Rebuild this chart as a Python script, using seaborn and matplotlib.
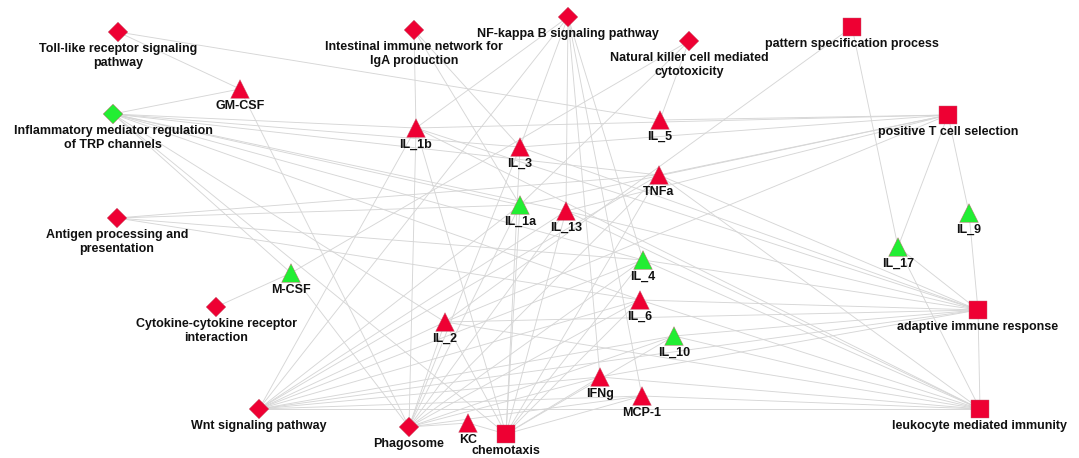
import matplotlib
matplotlib.use("Agg")
import matplotlib.pyplot as plt
import seaborn as sns
import pandas as pd

# ---- data ----
node_names = ["Toll-like receptor signaling\npathway", "Intestinal immune network for\nIgA production",
              "NF-kappa B signaling pathway", "Natural killer cell mediated\ncytotoxicity",
              "pattern specification process", "GM-CSF", "Inflammatory mediator regulation\nof TRP channels",
              "IL_1b", "IL_3", "IL_5", "positive T cell selection", "TNFa", "IL_1a", "IL_13",
              "Antigen processing and\npresentation", "IL_9", "IL_4", "IL_17", "M-CSF", "IL_6",
              "Cytokine-cytokine receptor\ninteraction", "adaptive immune response", "IL_2", "IL_10",
              "IFNg", "MCP-1", "Wnt signaling pathway", "leukocyte mediated immunity", "Phagosome",
              "KC", "chemotaxis"]
node_ids = ["Toll", "Intestinal", "NFkB", "NK", "pattern", "GM-CSF", "TRP", "IL_1b", "IL_3", "IL_5",
            "posT", "TNFa", "IL_1a", "IL_13", "Antigen", "IL_9", "IL_4", "IL_17", "M-CSF", "IL_6",
            "Cytokine", "adaptive", "IL_2", "IL_10", "IFNg", "MCP-1", "Wnt", "leukocyte", "Phagosome",
            "KC", "chemotaxis"]
node_x = [118, 414, 568, 689, 852, 240, 113, 416, 520, 660, 948, 659, 520, 566, 117, 969, 643, 898,
          291, 640, 216, 978, 445, 674, 600, 642, 259, 980, 409, 468, 506]
node_y = [32, 30, 17, 41, 27, 89, 114, 128, 147, 120, 115, 175, 205, 211, 218, 213, 260, 247, 273,
          300, 307, 310, 322, 336, 377, 396, 409, 409, 427, 423, 434]
node_kind = ["pathway", "pathway", "pathway", "pathway", "process", "cytokine", "pathway", "cytokine",
             "cytokine", "cytokine", "process", "cytokine", "cytokine", "cytokine", "pathway", "cytokine",
             "cytokine", "cytokine", "cytokine", "cytokine", "pathway", "process", "cytokine", "cytokine",
             "cytokine", "cytokine", "pathway", "process", "pathway", "cytokine", "process"]
node_state = ["up", "up", "up", "up", "up", "up", "down", "up", "up", "up", "up", "up", "down", "up",
              "up", "down", "down", "down", "down", "up", "up", "up", "up", "down", "up", "up", "up",
              "up", "up", "up", "up"]

edges = [
    ("Toll", "GM-CSF"), ("Toll", "IL_5"),
    ("TRP", "GM-CSF"), ("TRP", "IL_1b"), ("TRP", "IL_3"), ("TRP", "TNFa"), ("TRP", "IL_13"),
    ("TRP", "IL_4"), ("TRP", "IL_6"), ("TRP", "M-CSF"), ("TRP", "IL_2"), ("TRP", "IL_1a"),
    ("GM-CSF", "Phagosome"),
    ("Intestinal", "IL_1b"), ("Intestinal", "IL_1a"), ("Intestinal", "IL_3"),
    ("NFkB", "IL_1b"), ("NFkB", "IL_3"), ("NFkB", "IL_13"), ("NFkB", "IFNg"), ("NFkB", "IL_4"),
    ("NFkB", "Wnt"), ("NFkB", "MCP-1"),
    ("NK", "IL_5"), ("NK", "M-CSF"), ("NK", "IL_1a"),
    ("pattern", "IL_2"), ("pattern", "IL_17"),
    ("Antigen", "TNFa"), ("Antigen", "IL_1a"), ("Antigen", "IL_4"), ("Antigen", "IL_6"),
    ("M-CSF", "Cytokine"), ("M-CSF", "Phagosome"),
    ("posT", "IL_5"), ("posT", "IL_3"), ("posT", "TNFa"), ("posT", "IL_13"), ("posT", "IL_2"),
    ("posT", "IL_1a"), ("posT", "IL_17"), ("posT", "IL_9"), ("posT", "IL_1b"),
    ("adaptive", "IL_9"), ("adaptive", "IL_17"), ("adaptive", "leukocyte"), ("adaptive", "IL_1b"),
    ("adaptive", "TNFa"), ("adaptive", "IL_13"), ("adaptive", "IL_4"), ("adaptive", "IL_6"),
    ("adaptive", "IL_2"), ("adaptive", "IL_10"), ("adaptive", "IFNg"), ("adaptive", "Wnt"),
    ("adaptive", "IL_3"),
    ("leukocyte", "IL_17"), ("leukocyte", "TNFa"), ("leukocyte", "IL_13"), ("leukocyte", "IL_4"),
    ("leukocyte", "IL_6"), ("leukocyte", "IL_2"), ("leukocyte", "IL_10"), ("leukocyte", "IFNg"),
    ("leukocyte", "MCP-1"), ("leukocyte", "IL_1b"), ("leukocyte", "Wnt"),
    ("Wnt", "IL_1b"), ("Wnt", "IL_1a"), ("Wnt", "IL_13"), ("Wnt", "TNFa"), ("Wnt", "IL_2"),
    ("Wnt", "IL_4"), ("Wnt", "IL_6"), ("Wnt", "IL_10"), ("Wnt", "IFNg"), ("Wnt", "MCP-1"),
    ("Phagosome", "IL_1b"), ("Phagosome", "IL_2"), ("Phagosome", "IL_1a"), ("Phagosome", "IL_13"),
    ("Phagosome", "IL_3"), ("Phagosome", "TNFa"), ("Phagosome", "IL_4"), ("Phagosome", "IL_6"),
    ("Phagosome", "IL_10"), ("Phagosome", "IFNg"), ("Phagosome", "MCP-1"), ("Phagosome", "KC"),
    ("chemotaxis", "IL_1b"), ("chemotaxis", "IL_1a"), ("chemotaxis", "IL_2"), ("chemotaxis", "IL_13"),
    ("chemotaxis", "TNFa"), ("chemotaxis", "IL_6"), ("chemotaxis", "IFNg"), ("chemotaxis", "MCP-1"),
    ("chemotaxis", "KC"), ("chemotaxis", "IL_4"), ("chemotaxis", "IL_10"), ("chemotaxis", "TRP"),
    ("chemotaxis", "IL_3"),
]

# ---- figure ----
sns.set_theme(style="white")
plt.rcParams['font.family'] = ['Liberation Sans', 'DejaVu Sans']

df = pd.DataFrame({"id": node_ids, "label": node_names, "x": node_x, "y": node_y,
                   "kind": node_kind, "state": node_state})
pos = {r.id: (r.x, r.y) for r in df.itertuples()}

fig = plt.figure(figsize=(10.79, 4.58), dpi=100)
ax = fig.add_axes([0, 0, 1, 1])

for a, b in edges:
    (x1, y1), (x2, y2) = pos[a], pos[b]
    ax.plot([x1, x2], [y1, y2], color="#d6d6d6", lw=0.65, zorder=1)

sns.scatterplot(data=df, x="x", y="y", hue="state", style="kind", size="kind",
                palette={"up": "#ee0033", "down": "#22ee33"},
                markers={"pathway": "D", "process": "s", "cytokine": "^"},
                sizes={"pathway": 100, "process": 170, "cytokine": 180},
                edgecolor="#c06070", linewidth=0.3, legend=False, ax=ax, zorder=3)

for r in df.itertuples():
    off = 11 if r.kind != "pathway" else 11
    ax.text(r.x, r.y + off, r.label, ha="center", va="top", fontsize=9,
            fontweight="bold", color="#111111", linespacing=1.2, zorder=4)

ax.set_xlim(0, 1079)
ax.set_ylim(458, 0)
ax.axis("off")
fig.savefig("out.png", dpi=100, facecolor="white")
